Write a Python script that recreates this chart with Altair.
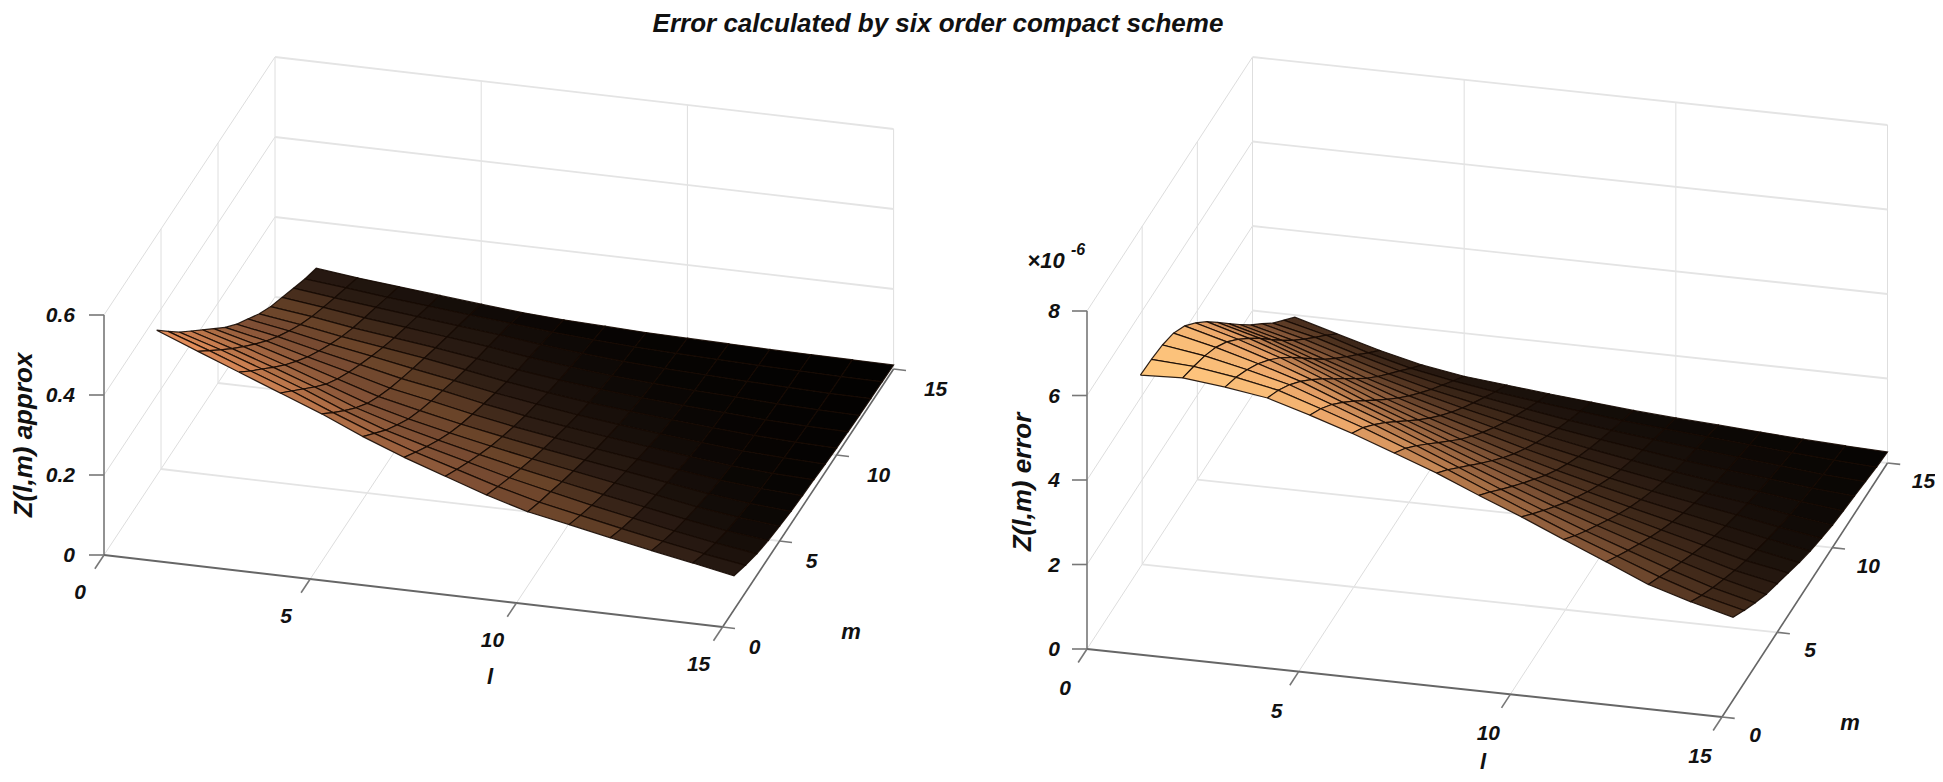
import altair as alt
import pandas as pd

TITLE = "Error calculated by six order compact scheme"
L_TICKS = [0, 5, 10, 15]
M_TICKS = [0, 5, 10, 15]
Z_TICKS_A = [0, 0.2, 0.4, 0.6]
Z_LABELS_A = ["0", "0.2", "0.4", "0.6"]
Z_TICKS_B = [0, 2, 4, 6, 8]
Z_LABELS_B = ["0", "2", "4", "6", "8"]

# Z(l,m) approx x 1000; rows l = 1..15, columns m = 1..15
Z_APPROX = [
    [531, 485, 440, 400, 360, 320, 280, 245, 215, 185, 160, 140, 120, 100, 84],
    [490, 449, 408, 368, 330, 293, 258, 226, 197, 170, 147, 127, 108, 90, 72],
    [450, 410, 372, 333, 296, 262, 230, 202, 176, 152, 131, 113, 96, 78, 62],
    [410, 372, 334, 296, 260, 230, 204, 180, 158, 137, 118, 101, 85, 68, 52],
    [370, 330, 292, 256, 224, 198, 176, 157, 139, 122, 105, 89, 74, 58, 42],
    [325, 290, 255, 225, 197, 175, 156, 139, 121, 105, 90, 77, 63, 49, 33],
    [285, 255, 226, 199, 174, 153, 135, 118, 102, 87, 74, 62, 51, 39, 27],
    [250, 224, 199, 175, 153, 134, 116, 100, 86, 72, 60, 50, 41, 32, 23],
    [215, 193, 172, 152, 133, 116, 100, 85, 71, 59, 49, 40, 33, 26, 19],
    [185, 166, 149, 131, 115, 99, 84, 71, 59, 49, 40, 33, 27, 22, 17],
    [165, 145, 127, 111, 97, 83, 70, 58, 48, 40, 33, 27, 23, 19, 15],
    [144, 124, 107, 92, 79, 67, 56, 46, 38, 32, 27, 23, 19, 16, 13],
    [124, 104, 87, 73, 61, 51, 42, 35, 29, 25, 21, 18, 16, 14, 12],
    [105, 85, 69, 56, 47, 39, 33, 28, 24, 20, 17, 15, 13, 12, 11],
    [85, 68, 54, 44, 37, 31, 27, 24, 20, 17, 15, 13, 12, 11, 10],
]

# Z(l,m) error in units of 1e-8; rows l = 1..15, columns m = 1..15
Z_ERROR = [
    [619, 616, 610, 598, 575, 542, 505, 463, 420, 378, 337, 300, 261, 228, 195],
    [623, 610, 595, 575, 548, 514, 476, 436, 393, 351, 311, 274, 238, 203, 166],
    [612, 595, 573, 547, 516, 481, 442, 400, 358, 317, 279, 243, 208, 172, 138],
    [597, 575, 548, 516, 480, 442, 402, 362, 322, 283, 247, 213, 180, 146, 114],
    [567, 542, 512, 477, 440, 401, 362, 324, 287, 252, 219, 187, 157, 127, 98],
    [535, 508, 475, 440, 402, 364, 326, 290, 256, 224, 194, 166, 139, 112, 88],
    [499, 470, 436, 400, 363, 327, 291, 258, 227, 198, 171, 146, 122, 99, 78],
    [462, 430, 395, 360, 325, 291, 258, 227, 199, 173, 149, 127, 106, 87, 69],
    [420, 388, 354, 321, 289, 258, 227, 199, 174, 151, 130, 111, 93, 76, 60],
    [380, 347, 315, 284, 254, 226, 199, 174, 151, 131, 113, 97, 82, 67, 53],
    [337, 306, 277, 250, 223, 197, 173, 151, 131, 113, 97, 83, 71, 59, 47],
    [295, 268, 242, 217, 193, 170, 149, 130, 113, 97, 83, 71, 61, 51, 41],
    [252, 230, 207, 185, 164, 144, 126, 110, 96, 83, 71, 61, 52, 43, 35],
    [222, 197, 175, 155, 136, 119, 104, 90, 78, 67, 58, 50, 42, 36, 30],
    [196, 172, 150, 130, 115, 100, 85, 72, 62, 53, 47, 42, 36, 30, 26],
]

FONT = "Liberation Sans"
W, H = 1927, 766
XS = alt.Scale(domain=[8, 8 + W], nice=False, zero=False)
YS = alt.Scale(domain=[8 + H, 8], nice=False, zero=False)


def make_proj(ox, oy, lx, ly, mx, my, zy):
    def proj(l, m, z):
        return ox + l * lx / 15 + m * mx / 15, oy + l * ly / 15 + m * my / 15 - z * zy
    return proj


proj_a = make_proj(104, 555, 618.6, 72, 171, -258, 400)
proj_b = make_proj(1087, 649, 635, 68, 165.5, -254, 42.25)
ZMAX_A, ZMAX_B = 0.6, 8


def enc():
    return dict(
        x=alt.X("px:Q", scale=XS, axis=None),
        y=alt.Y("py:Q", scale=YS, axis=None),
        detail="seg:N",
        order=alt.Order("v:Q"),
    )


def segs_layer(segments, color, width):
    rows = []
    for i, (p, q) in enumerate(segments):
        rows.append(dict(seg=i, v=0, px=p[0], py=p[1]))
        rows.append(dict(seg=i, v=1, px=q[0], py=q[1]))
    df = pd.DataFrame(rows)
    return alt.Chart(df).mark_line(color=color, strokeWidth=width).encode(**enc())


def panel_grid(proj, zticks, zmax):
    thick, thin, verts = [], [], []
    for z in zticks[1:]:
        thick.append((proj(0, 15, z), proj(15, 15, z)))
        thin.append((proj(0, 0, z), proj(0, 15, z)))
    for m in M_TICKS[1:]:
        thick.append((proj(0, m, 0), proj(15, m, 0)))
        verts.append((proj(0, m, 0), proj(0, m, zmax)))
    for l in L_TICKS[1:]:
        verts.append((proj(l, 15, 0), proj(l, 15, zmax)))
        thin.append((proj(l, 0, 0), proj(l, 15, 0)))
    thin.append((proj(0, 0, 0), proj(0, 15, 0)))
    return [
        segs_layer(thin, "#dddddd", 1),
        segs_layer(verts, "#dedede", 1),
        segs_layer(thick, "#e4e4e4", 1.8),
    ]


def panel_axes(proj, zticks, zmax, ztick_len):
    ticks = []
    for z in zticks:
        px, py = proj(0, 0, z)
        ticks.append(((px - ztick_len, py), (px, py)))
    for l in L_TICKS:
        ticks.append((proj(l, 0, 0), proj(l, -0.8, 0)))
    for m in M_TICKS:
        ticks.append((proj(15, m, 0), proj(15.3, m, 0)))
    return [
        segs_layer([(proj(0, 0, 0), proj(0, 0, zmax))], "#777777", 1.6),
        segs_layer([(proj(15, 0, 0), proj(15, 15, 0))], "#666666", 1.6),
        segs_layer([(proj(0, 0, 0), proj(15, 0, 0))], "#666666", 2),
        segs_layer(ticks, "#777777", 1.6),
    ]


def surface(proj, table, scale_factor, domain, colors):
    rows = []
    cell = 0
    for mi in range(13, -1, -1):
        for li in range(14):
            corners = [(li, mi), (li + 1, mi), (li + 1, mi + 1), (li, mi + 1), (li, mi)]
            vals = [table[a][b] * scale_factor for a, b in corners]
            zc = sum(vals[:4]) / 4
            for v, ((a, b), z) in enumerate(zip(corners, vals)):
                px, py = proj(a + 1, b + 1, z)
                rows.append(dict(seg=cell, v=v, px=px, py=py, zc=zc))
            cell += 1
    df = pd.DataFrame(rows)
    return alt.Chart(df).mark_line(
        filled=True, stroke="#160a03", strokeWidth=1.2, strokeOpacity=0.9
    ).encode(
        color=alt.Color("zc:Q", legend=None,
                        scale=alt.Scale(domain=domain, range=colors, clamp=True,
                                        interpolate="rgb")),
        **enc(),
    )


def text_layer(rows, size=21, align="center", angle=0):
    df = pd.DataFrame(rows, columns=["px", "py", "label"])
    return alt.Chart(df).mark_text(
        font=FONT, fontSize=size, fontWeight="bold", fontStyle="italic",
        align=align, baseline="middle", angle=angle, color="#111111",
    ).encode(
        x=alt.X("px:Q", scale=XS, axis=None),
        y=alt.Y("py:Q", scale=YS, axis=None),
        text="label:N",
    )


def panel_labels(proj, zticks, zlabels, zdx, ldx, ldy, mdx, mdy, wide):
    lab_l, lab_r = [], []
    for z, s in zip(zticks, zlabels):
        px, py = proj(0, 0, z)
        lab_r.append((px + zdx, py + 1, s))
    for l in L_TICKS:
        px, py = proj(l, 0, 0)
        lab_l.append((px + ldx, py + ldy, str(l)))
    for m in M_TICKS:
        px, py = proj(15, m, 0)
        lab_l.append((px + mdx + (wide if m >= 10 else 0), py + mdy, str(m)))
    return [text_layer(lab_l), text_layer(lab_r, align="right")]


layers = []
layers += panel_grid(proj_a, Z_TICKS_A, ZMAX_A)
layers += panel_grid(proj_b, Z_TICKS_B, ZMAX_B)
layers += panel_axes(proj_a, Z_TICKS_A, ZMAX_A, 15)
layers += panel_axes(proj_b, Z_TICKS_B, ZMAX_B, 15)

layers.append(surface(proj_a, Z_APPROX, 0.001,
                      [0, 0.03, 0.1, 0.153, 0.205, 0.33, 0.53],
                      ["#000000", "#080503", "#2d1d14", "#6a4429", "#784b32", "#af6e46", "#ef955f"]))
layers.append(surface(proj_b, Z_ERROR, 0.01,
                      [0, 0.5, 1, 2, 3, 4.3, 5.3, 6.2],
                      ["#000000", "#0c0805", "#1c120c", "#4b301e", "#825537",
                       "#b4784b", "#eba569", "#ffc77e"]))

layers += panel_labels(proj_a, Z_TICKS_A, Z_LABELS_A, -29, -24, 38, 32, 21, 10)
layers += panel_labels(proj_b, Z_TICKS_B, Z_LABELS_B, -27, -22, 40, 33, 19, 3)

layers.append(text_layer([(938, 24, TITLE)], size=26))
layers.append(text_layer([(490, 677, "l"), (851, 632, "m"), (1850, 723, "m")], size=22))
layers.append(text_layer([(1483, 762, "l")], size=22))
layers.append(text_layer([(24, 435, "Z(l,m) approx")], size=26, angle=270))
layers.append(text_layer([(1023, 482, "Z(l,m) error")], size=26, angle=270))
layers.append(text_layer([(1046, 261, "×10")], size=22))
layers.append(text_layer([(1071, 250, "-6")], size=16, align="left"))

chart = alt.layer(*layers).resolve_scale(color="independent").properties(
    width=W, height=H, padding=0, autosize=alt.AutoSizeParams(type="none")
).configure_view(strokeWidth=0)

chart.save("out.html", embed_options={"renderer": "svg", "actions": False})
